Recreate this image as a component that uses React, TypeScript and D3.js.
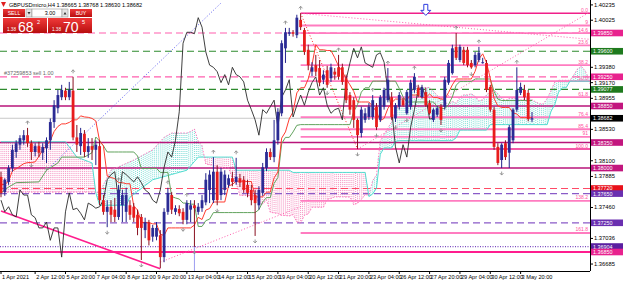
import React from "react";
import * as d3 from "d3";

// ---------- candle data (GBPUSDmicro H4, 1 Apr – 4 May 2021) ----------
const openP = [
  1.3788,1.3767,1.3781,1.3800,1.3822,1.3832,1.3838,1.3845,1.3834,1.3822,
  1.3830,1.3821,1.3827,1.3838,1.3863,1.3882,1.3897,1.3906,1.3897,1.3906,
  1.3842,1.3830,1.3847,1.3822,1.3830,1.3825,1.3830,1.3756,1.3740,1.3747,
  1.3743,1.3733,1.3749,1.3740,1.3749,1.3747,1.3736,1.3733,1.3715,1.3725,
  1.3706,1.3706,1.3708,1.3678,1.3740,1.3763,1.3740,1.3744,1.3740,1.3729,
  1.3743,1.3749,1.3740,1.3745,1.3753,1.3770,1.3756,1.3795,1.3763,1.3770,
  1.3777,1.3786,1.3781,1.3786,1.3784,1.3777,1.3770,1.3763,1.3749,1.3766,
  1.3800,1.3822,1.3815,1.3838,1.3875,1.3964,1.3984,1.3986,1.3982,1.4003,
  1.3989,1.3962,1.3932,1.3941,1.3937,1.3921,1.3934,1.3923,1.3932,1.3938,
  1.3938,1.3923,1.3900,1.3893,1.3866,1.3848,1.3866,1.3870,1.3870,1.3884,
  1.3866,1.3884,1.3893,1.3897,1.3868,1.3884,1.3893,1.3875,1.3884,1.3907,
  1.3910,1.3897,1.3904,1.3889,1.3866,1.3873,1.3884,1.3884,1.3917,1.3930,
  1.3966,1.3948,1.3962,1.3962,1.3944,1.3941,1.3948,1.3944,1.3944,1.3911,
  1.3880,1.3829,1.3811,1.3834,1.3821,1.3838,1.3880,1.3903,1.3907,1.3903,
  1.38665,
];
const highP = [
  1.3795,1.3786,1.3804,1.3832,1.3838,1.3845,1.3852,1.3855,1.3838,1.3834,
  1.3836,1.3834,1.3842,1.3868,1.3893,1.3907,1.3914,1.3910,1.3918,1.3925,
  1.3859,1.3855,1.3852,1.3841,1.3841,1.3838,1.3838,1.3763,1.3756,1.3756,
  1.3759,1.3777,1.3770,1.3773,1.3756,1.3752,1.3743,1.3737,1.3732,1.3729,
  1.3722,1.3726,1.3715,1.3745,1.3773,1.3767,1.3749,1.3749,1.3745,1.3756,
  1.3756,1.3756,1.3752,1.3763,1.3793,1.3797,1.3815,1.3804,1.3800,1.3797,
  1.3791,1.3795,1.3814,1.3792,1.3789,1.3784,1.3777,1.3770,1.3775,1.3807,
  1.3827,1.3827,1.3866,1.3882,1.3975,1.3992,1.3992,1.3989,1.4010,1.4012,
  1.3992,1.3969,1.3945,1.3955,1.3948,1.3934,1.3940,1.3943,1.3937,1.3955,
  1.3943,1.3928,1.3904,1.3897,1.3868,1.3884,1.3882,1.3889,1.3900,1.3889,
  1.3900,1.3910,1.3937,1.3904,1.3889,1.3904,1.3896,1.3907,1.3921,1.3930,
  1.3914,1.3914,1.3910,1.3893,1.3882,1.3885,1.3888,1.3925,1.3948,1.3969,
  1.3985,1.3969,1.3966,1.3966,1.3948,1.3959,1.3966,1.3951,1.3948,1.3914,
  1.3884,1.3834,1.3834,1.3838,1.3859,1.3882,1.3938,1.3917,1.3914,1.3907,
  1.38768,
];
const lowP = [
  1.3760,1.3762,1.3777,1.3795,1.3814,1.3825,1.3832,1.3829,1.3811,1.3816,
  1.3815,1.3811,1.3807,1.3825,1.3855,1.3875,1.3893,1.3893,1.3893,1.3838,
  1.3822,1.3818,1.3815,1.3814,1.3811,1.3804,1.3749,1.3736,1.3719,1.3726,
  1.3726,1.3729,1.3726,1.3726,1.3729,1.3726,1.3708,1.3674,1.3704,1.3694,
  1.3699,1.3701,1.3663,1.3671,1.3736,1.3737,1.3736,1.3734,1.3723,1.3723,
  1.3726,1.3692,1.3736,1.3740,1.3749,1.3752,1.3752,1.3749,1.3756,1.3763,
  1.3773,1.3775,1.3777,1.3774,1.3766,1.3760,1.3749,1.3707,1.3743,1.3762,
  1.3796,1.3811,1.3808,1.3832,1.3871,1.3944,1.3981,1.3980,1.3978,1.3989,
  1.3955,1.3934,1.3926,1.3926,1.3912,1.3915,1.3910,1.3918,1.3921,1.3921,
  1.3914,1.3889,1.3873,1.3855,1.3826,1.3842,1.3862,1.3866,1.3866,1.3852,
  1.3863,1.3880,1.3890,1.3866,1.3863,1.3880,1.3884,1.3873,1.3880,1.3903,
  1.3897,1.3895,1.3884,1.3873,1.3863,1.3870,1.3859,1.3880,1.3914,1.3928,
  1.3948,1.3945,1.3941,1.3938,1.3936,1.3938,1.3945,1.3943,1.3904,1.3877,
  1.3825,1.3804,1.3800,1.3811,1.3800,1.3834,1.3877,1.3900,1.3893,1.3864,
  1.38630,
];
const closeP = [
  1.3766,1.3784,1.3800,1.3825,1.3834,1.3841,1.3845,1.3834,1.3822,1.3830,
  1.3821,1.3829,1.3838,1.3863,1.3886,1.3900,1.3907,1.3897,1.3907,1.3842,
  1.3832,1.3848,1.3822,1.3830,1.3825,1.3832,1.3756,1.3740,1.3747,1.3736,
  1.3733,1.3770,1.3763,1.3763,1.3736,1.3732,1.3718,1.3718,1.3726,1.3701,
  1.3718,1.3718,1.3678,1.3740,1.3766,1.3743,1.3745,1.3738,1.3729,1.3752,
  1.3749,1.3745,1.3747,1.3756,1.3784,1.3791,1.3795,1.3756,1.3795,1.3791,
  1.3786,1.3781,1.3788,1.3780,1.3770,1.3766,1.3756,1.3752,1.3770,1.3801,
  1.3822,1.3815,1.3838,1.3877,1.3971,1.3986,1.3986,1.3984,1.4006,1.3993,
  1.3959,1.3941,1.3938,1.3932,1.3917,1.3928,1.3914,1.3938,1.3928,1.3925,
  1.3918,1.3893,1.3880,1.3866,1.3845,1.3880,1.3875,1.3884,1.3893,1.3856,
  1.3897,1.3907,1.3921,1.3870,1.3886,1.3900,1.3886,1.3904,1.3917,1.3925,
  1.3900,1.3910,1.3886,1.3875,1.3880,1.3882,1.3866,1.3921,1.3944,1.3964,
  1.3951,1.3966,1.3944,1.3941,1.3938,1.3955,1.3958,1.3945,1.3907,1.3880,
  1.3829,1.3807,1.3832,1.3815,1.3856,1.3880,1.3907,1.3911,1.3897,1.3867,
  1.38682,
];

// ---------- Ichimoku values before enough history ----------
const earlyKijun = [[0,1.3766],[2,1.3774],[4,1.3780],[10,1.3781],[12,1.3797],[15,1.3807],[16,1.3815],[22,1.3815],[24,1.3821]];
const earlySpanA = [[0,1.3767],[26,1.3767],[29,1.3797],[35,1.3811],[40,1.3825],[43,1.3842],[45,1.3848],[49,1.3848],[51,1.3852]];
const earlySpanB = [[0,1.3836],[17,1.3836],[18,1.3829],[20,1.3815],[24,1.3807],[25,1.3766],[26,1.3749],[33,1.3749],[34,1.3760],[40,1.3784],[49,1.3797],[52,1.3815],[61,1.3815],[62,1.3797],[77,1.3797]];

// ---------- axes ----------
const timeLabels = ["1 Apr 2021","2 Apr 12:00","5 Apr 20:00","7 Apr 04:00","8 Apr 12:00","9 Apr 20:00","13 Apr 04:00","14 Apr 12:00","15 Apr 20:00","19 Apr 04:00","20 Apr 12:00","21 Apr 20:00","23 Apr 04:00","26 Apr 12:00","27 Apr 20:00","29 Apr 04:00","30 Apr 12:00","3 May 20:00"];
const timeLabelBars = [0,9,17,25,33,41,49,57,65,73,81,89,97,105,113,121,129,137];
const priceTicks = [1.40235,1.40025,1.39380,1.39170,1.38955,1.38530,1.38100,1.37885,1.37460,1.37036,1.36685];

// ---------- horizontal levels ----------
const levelPrices = [1.3985,1.3960,1.3925,1.39077,1.3885,1.38682,1.3835,1.3800,1.3772,1.3765,1.3725,1.36925,1.3685];
const levelLabels = ["1.39850","1.39600","1.39250","1.39077","1.38850","1.38682","1.38350","1.38000","1.37720","1.37650","1.37250","1.36904","1.36850"];
const levelKinds = ["pinkDash","greenDash","pinkDash","greenDash","magenta","bid","magenta","magenta","redDash","purpleDash","purpleDash","purpleDot","magentaThick"];

// ---------- Fibonacci ----------
const fibLevels = [0,9,14.6,23.6,38.2,50,61.8,76.4,85.4,91,100,138.2,161.8];
const fibLabels = ["0.0","9","14.6","23.6","38.2","50.0","61.8","76.4","85.4","91","100.0","138.2","161.8"];
const fibHighBar = 79, fibHigh = 1.4012, fibLowBar = 94, fibLow = 1.3826;

// ---------- trend lines ----------
const trendMagenta = [[0,1.3741],[42,1.3662]];
const trendBlueDotted = [[12,1.3797],[58,1.4026]];
const trendPinkDotted = [[79,1.4012],[156,1.3976]];
const trendPinkRise = [[42,1.3671],[79,1.3747]];
const trendPinkRise2 = [[94,1.3826],[156,1.4016]];
const arrowAnchor = [112,1.4016];
const orderText = "#37259853 sell 1.00";
const orderPrice = 1.3925;
const vLineBar = 51;

const kindStyle: Record<string, any> = {
  pinkDash: { stroke: "#FF5FAE", dash: "7,4", w: 1.2, box: "#E8228E" },
  greenDash: { stroke: "#2E8B2E", dash: "7,4", w: 1.2, box: "#1E7A1E" },
  magenta: { stroke: "#B8157A", dash: null, w: 1.5, box: "#C2167E" },
  bid: { stroke: "#C8C8C8", dash: null, w: 1, box: "#000000" },
  redDash: { stroke: "#FF4A66", dash: "7,4", w: 1.2, box: "#E8101A" },
  purpleDash: { stroke: "#8A5BC8", dash: "7,4", w: 1.2, box: "#6A2FB0" },
  purpleDot: { stroke: "#7A4BC0", dash: "1,1.5", w: 1.2, box: "#5A1FA0" },
  magentaThick: { stroke: "#FF1D8E", dash: null, w: 2, box: "#E8228E" },
};

export default function App() {
  const W = 625, H = 282, R = 590, B = 271;
  const x = d3.scaleLinear().domain([0, 140]).range([1, 532]);
  const y = d3.scaleLinear().domain([1.3985, 1.3685]).range([33, 252]);
  const n = closeP.length;

  const hh = (a: number, b: number) => d3.max(highP.slice(Math.max(0, a), b + 1)) as number;
  const ll = (a: number, b: number) => d3.min(lowP.slice(Math.max(0, a), b + 1)) as number;
  const tenkan = d3.range(n).map((i) => (hh(i - 8, i) + ll(i - 8, i)) / 2);
  const kijunAt = (i: number) => (hh(i - 25, i) + ll(i - 25, i)) / 2;
  const interp = (pts: number[][], j: number) => {
    for (let k = 0; k < pts.length - 1; k++) {
      const [b0, v0] = pts[k], [b1, v1] = pts[k + 1];
      if (j >= b0 && j <= b1) return b1 === b0 ? v1 : v0 + ((v1 - v0) * (j - b0)) / (b1 - b0);
    }
    return pts[pts.length - 1][1];
  };
  const kijunPts: number[][] = [...earlyKijun, ...d3.range(25, n).map((i) => [i, kijunAt(i)])];
  const tenkanPts = tenkan.map((v, i) => [i, v]);
  const spanA = (j: number) => (j >= 51 ? (tenkan[j - 26] + kijunAt(j - 26)) / 2 : interp(earlySpanA, j));
  const spanB = (j: number) => (j >= 77 ? (hh(j - 77, j - 26) + ll(j - 77, j - 26)) / 2 : interp(earlySpanB, j));
  const cloudBars = d3.range(0, n + 26);
  const spanAPts = cloudBars.map((j) => [j, spanA(j)]);
  const spanBPts = cloudBars.map((j) => [j, spanB(j)]);
  const chikouPts = d3.range(0, n - 26).map((i) => [i, closeP[i + 26]]);

  const line = d3.line<number[]>().x((d) => x(d[0])).y((d) => y(d[1]));

  const hatch: any[] = [];
  for (let j = 0; j < n + 25; j++) {
    for (const f of [0, 0.5]) {
      const a = f === 0 ? spanA(j) : (spanA(j) + spanA(j + 1)) / 2;
      const b = f === 0 ? spanB(j) : (spanB(j) + spanB(j + 1)) / 2;
      const bull = a > b;
      hatch.push(
        <line key={`h${j}_${f}`} x1={x(j + f)} x2={x(j + f)} y1={y(a)} y2={y(b)}
          stroke={bull ? "#7EDDD6" : "#F491C0"} strokeWidth={1} strokeDasharray="1,1" />
      );
    }
  }

  const upFr: number[] = [], dnFr: number[] = [];
  for (let i = 2; i < n - 2; i++) {
    if (highP[i] > highP[i - 1] && highP[i] > highP[i - 2] && highP[i] >= highP[i + 1] && highP[i] >= highP[i + 2]) upFr.push(i);
    if (lowP[i] < lowP[i - 1] && lowP[i] < lowP[i - 2] && lowP[i] <= lowP[i + 1] && lowP[i] <= lowP[i + 2]) dnFr.push(i);
  }

  const fibPrice = (lv: number) => fibHigh - (lv / 100) * (fibHigh - fibLow);
  const fs = "Liberation Sans, Arial, sans-serif";
  const bw = 2.8;
  const dotted = (pts: number[][], color: string, k: string) => (
    <path key={k} d={line(pts) || ""} stroke={color} strokeWidth={1} strokeDasharray="1,2" fill="none" />
  );

  return (
    <svg width={W} height={H} style={{ position: "fixed", left: 0, top: 0, background: "#fff" }} fontFamily={fs}>
      <defs>
        <clipPath id="plot"><rect x={0} y={0} width={R} height={B} /></clipPath>
        <linearGradient id="red" x1="0" y1="0" x2="0" y2="1">
          <stop offset="0" stopColor="#F03A3A" />
          <stop offset="1" stopColor="#B80E0E" />
        </linearGradient>
      </defs>
      <rect x={0} y={0} width={W} height={H} fill="#fff" />
      <g clipPath="url(#plot)">
        {hatch}
        {levelPrices.map((p, i) => {
          const s = kindStyle[levelKinds[i]];
          return <line key={`lv${i}`} x1={0} x2={R} y1={y(p)} y2={y(p)} stroke={s.stroke} strokeWidth={s.w} strokeDasharray={s.dash || undefined} />;
        })}
        {fibLevels.map((lv, i) => (
          <line key={`fb${i}`} x1={x(fibHighBar)} x2={R} y1={y(fibPrice(lv))} y2={y(fibPrice(lv))}
            stroke={lv === 0 || lv === 100 ? "#F0208A" : "#FF7CC0"} strokeWidth={lv === 0 || lv === 100 ? 1.6 : 1.8} />
        ))}
        <line x1={x(fibHighBar)} y1={y(fibHigh)} x2={x(fibLowBar)} y2={y(fibLow)} stroke="#FF3030" strokeWidth={1} strokeDasharray="1,2" />
        <path d={line(trendMagenta) || ""} stroke="#FF1D8E" strokeWidth={1.6} fill="none" />
        {dotted(trendBlueDotted, "#5A5AF0", "tb")}
        {dotted(trendPinkDotted, "#FF5FAE", "tp1")}
        {dotted(trendPinkRise, "#FF5FAE", "tp2")}
        {dotted(trendPinkRise2, "#FF5FAE", "tp3")}
        <line x1={x(vLineBar)} x2={x(vLineBar)} y1={y(lowP[vLineBar])} y2={B} stroke="#9C9CF0" strokeWidth={1} />
        <path d={line(spanBPts) || ""} stroke="#4FDCCF" strokeWidth={1} fill="none" />
        <path d={line(spanAPts) || ""} stroke="#FF7CC0" strokeWidth={1} strokeDasharray="1.5,1.5" fill="none" />
        <path d={line(kijunPts) || ""} stroke="#62A35E" strokeWidth={1} fill="none" />
        <path d={line(tenkanPts) || ""} stroke="#FF3B2F" strokeWidth={1} fill="none" />
        <path d={line(chikouPts) || ""} stroke="#2A2A2A" strokeWidth={0.9} fill="none" />
        {closeP.map((c, i) => {
          const o = openP[i], up = c >= o;
          const top = y(Math.max(o, c)), bot = y(Math.min(o, c));
          return (
            <g key={`c${i}`}>
              <line x1={x(i)} x2={x(i)} y1={y(highP[i])} y2={y(lowP[i])} stroke={up ? "#22228A" : "#8A1020"} strokeWidth={1} />
              <rect x={x(i) - bw / 2} y={top} width={bw} height={Math.max(1, bot - top)} fill={up ? "#2B2B95" : "#E81C1C"} />
            </g>
          );
        })}
        {upFr.map((i) => {
          const cx = x(i), cy = y(highP[i]) - 7;
          return <path key={`u${i}`} d={`M${cx - 1.8},${cy + 2} L${cx},${cy} L${cx + 1.8},${cy + 2} M${cx},${cy} L${cx},${cy + 3.5}`} stroke="#8E8E8E" strokeWidth={0.9} fill="none" />;
        })}
        {dnFr.map((i) => {
          const cx = x(i), cy = y(lowP[i]) + 7;
          return <path key={`d${i}`} d={`M${cx - 1.8},${cy - 2} L${cx},${cy} L${cx + 1.8},${cy - 2} M${cx},${cy} L${cx},${cy - 3.5}`} stroke="#8E8E8E" strokeWidth={0.9} fill="none" />;
        })}
        {(() => {
          const ax = x(arrowAnchor[0]), ay = y(arrowAnchor[1]);
          return <path d={`M${ax - 2},${ay - 6} L${ax + 2},${ay - 6} L${ax + 2},${ay} L${ax + 5},${ay} L${ax},${ay + 5} L${ax - 5},${ay} L${ax - 2},${ay} Z`} fill="#fff" stroke="#2C3BE0" strokeWidth={1} />;
        })()}
        <text x={4} y={y(orderPrice) - 1.5} fontSize={5.5} fill="#6A6A6A">{orderText}</text>
        {fibLevels.map((lv, i) => (
          <text key={`fl${i}`} x={R - 2} y={y(fibPrice(lv)) - 1.5} fontSize={5} fill="#FF4FA0" textAnchor="end">{fibLabels[i]}</text>
        ))}
      </g>

      {/* axes */}
      <line x1={R + 0.5} x2={R + 0.5} y1={0} y2={B} stroke="#000" strokeWidth={1} />
      <line x1={0} x2={R} y1={B + 0.5} y2={B + 0.5} stroke="#000" strokeWidth={1} />
      {priceTicks.map((p, i) => (
        <g key={`pt${i}`}>
          <line x1={R} x2={R + 3} y1={y(p)} y2={y(p)} stroke="#000" />
          <text x={R + 4} y={y(p) + 2} fontSize={5.8} fill="#000">{p.toFixed(5)}</text>
        </g>
      ))}
      {levelPrices.map((p, i) => {
        const s = kindStyle[levelKinds[i]];
        return (
          <g key={`bx${i}`}>
            <rect x={R + 1} y={y(p) - 3.3} width={32} height={6.6} fill={s.box} />
            <text x={R + 3} y={y(p) + 2} fontSize={5.4} fill="#fff">{levelLabels[i]}</text>
          </g>
        );
      })}
      {timeLabels.map((t, i) => (
        <g key={`tl${i}`}>
          <line x1={x(timeLabelBars[i])} x2={x(timeLabelBars[i])} y1={B} y2={B + 3} stroke="#000" />
          <text x={x(timeLabelBars[i]) + 1} y={279} fontSize={5.6} fill="#000">{t}</text>
        </g>
      ))}

      {/* one-click trading panel */}
      <path d="M1,2 L6,2 L3.5,7 Z" fill="#E02020" />
      <text x={9} y={7} fontSize={5.6} fill="#000">GBPUSDmicro,H4  1.38665 1.38768 1.38630 1.38682</text>
      <rect x={3} y={9} width={22} height={8} fill="url(#red)" />
      <text x={14} y={15} fontSize={5.2} fill="#fff" textAnchor="middle">SELL</text>
      <rect x={26} y={9} width={6} height={8} fill="#E4E4E4" stroke="#888" strokeWidth={0.5} />
      <path d="M27.5,12 L30.5,12 L29,14.5 Z" fill="#333" />
      <rect x={32} y={9} width={30} height={8} fill="#fff" stroke="#888" strokeWidth={0.5} />
      <text x={50} y={15} fontSize={5.4} fill="#000" textAnchor="middle">3.00</text>
      <rect x={62} y={9} width={6} height={8} fill="#E4E4E4" stroke="#888" strokeWidth={0.5} />
      <path d="M63.5,14.5 L66.5,14.5 L65,12 Z" fill="#333" />
      <rect x={70} y={9} width={22} height={8} fill="url(#red)" />
      <text x={81} y={15} fontSize={5.2} fill="#fff" textAnchor="middle">BUY</text>
      <rect x={3} y={18} width={44} height={15} fill="url(#red)" />
      <text x={7} y={31} fontSize={4.6} fill="#fff">1.38</text>
      <text x={18} y={31.5} fontSize={14} fill="#fff">68</text>
      <text x={37} y={24} fontSize={5.5} fill="#fff">2</text>
      <rect x={48} y={18} width={44} height={15} fill="url(#red)" />
      <text x={52} y={31} fontSize={4.6} fill="#fff">1.38</text>
      <text x={63} y={31.5} fontSize={14} fill="#fff">70</text>
      <text x={82} y={24} fontSize={5.5} fill="#fff">5</text>
    </svg>
  );
}
